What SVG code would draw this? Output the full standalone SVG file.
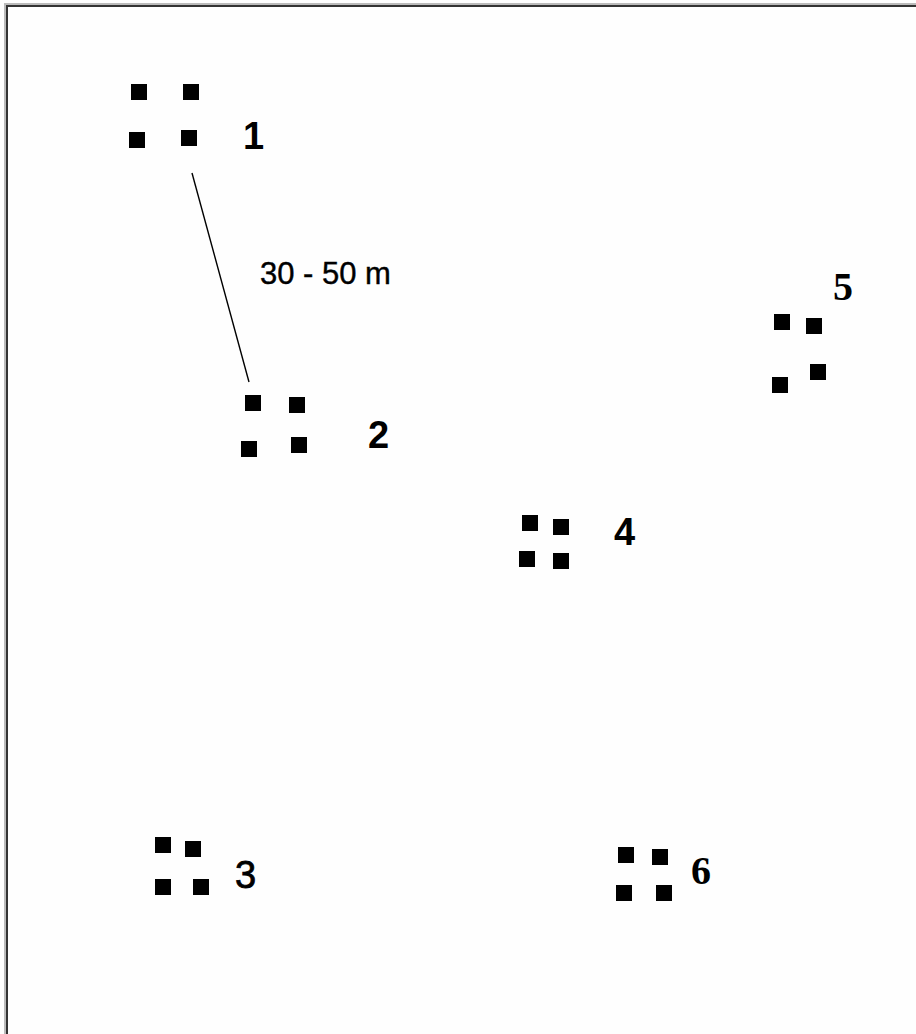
<svg xmlns="http://www.w3.org/2000/svg" width="916" height="1034" viewBox="0 0 916 1034">
<style>
.sq{fill:#000}
.lbl{font-family:"Liberation Sans",Arial,sans-serif;font-weight:bold;font-size:38px;fill:#000}
.lbls{font-family:"Liberation Serif","Times New Roman",serif;font-weight:bold;font-size:40px;fill:#000}
.dist{font-family:"Liberation Sans",Arial,sans-serif;font-size:31px;fill:#000;stroke:#000;stroke-width:0.4}
</style>
<rect width="916" height="1034" fill="#fefefe"/>
<g id="frame" fill="none">
<path d="M6 1034 V5 H916" stroke="#bbb" stroke-width="4"/>
<path d="M7 1034 V6 H916" stroke="#333" stroke-width="2"/>
</g>
<g id="connectors">
<line x1="192" y1="173" x2="249" y2="382" stroke="#000" stroke-width="1.4"/>
<text class="dist" x="260" y="284">30 - 50 m</text>
</g>
<g id="node1">
<rect class="sq" x="131" y="84" width="16" height="16"/>
<rect class="sq" x="183" y="84" width="16" height="16"/>
<rect class="sq" x="129" y="132" width="16" height="16"/>
<rect class="sq" x="181" y="130" width="16" height="16"/>
<text class="lbl" x="243" y="149">1</text>
</g>
<g id="node2">
<rect class="sq" x="245" y="395" width="16" height="16"/>
<rect class="sq" x="289" y="397" width="16" height="16"/>
<rect class="sq" x="241" y="441" width="16" height="16"/>
<rect class="sq" x="291" y="437" width="16" height="16"/>
<text class="lbl" x="368" y="448">2</text>
</g>
<g id="node3">
<rect class="sq" x="155" y="837" width="16" height="16"/>
<rect class="sq" x="185" y="841" width="16" height="16"/>
<rect class="sq" x="155" y="879" width="16" height="16"/>
<rect class="sq" x="193" y="879" width="16" height="16"/>
<text class="lbl" x="235" y="888" style="font-weight:normal;stroke:#000;stroke-width:0.8">3</text>
</g>
<g id="node4">
<rect class="sq" x="522" y="515" width="16" height="16"/>
<rect class="sq" x="553" y="519" width="16" height="16"/>
<rect class="sq" x="519" y="551" width="16" height="16"/>
<rect class="sq" x="553" y="553" width="16" height="16"/>
<text class="lbl" x="614" y="545">4</text>
</g>
<g id="node5">
<rect class="sq" x="774" y="314" width="16" height="16"/>
<rect class="sq" x="806" y="318" width="16" height="16"/>
<rect class="sq" x="772" y="377" width="16" height="16"/>
<rect class="sq" x="810" y="364" width="16" height="16"/>
<text class="lbls" x="833" y="300">5</text>
</g>
<g id="node6">
<rect class="sq" x="618" y="847" width="16" height="16"/>
<rect class="sq" x="652" y="849" width="16" height="16"/>
<rect class="sq" x="616" y="885" width="16" height="16"/>
<rect class="sq" x="656" y="885" width="16" height="16"/>
<text class="lbls" x="691" y="884">6</text>
</g>
</svg>
